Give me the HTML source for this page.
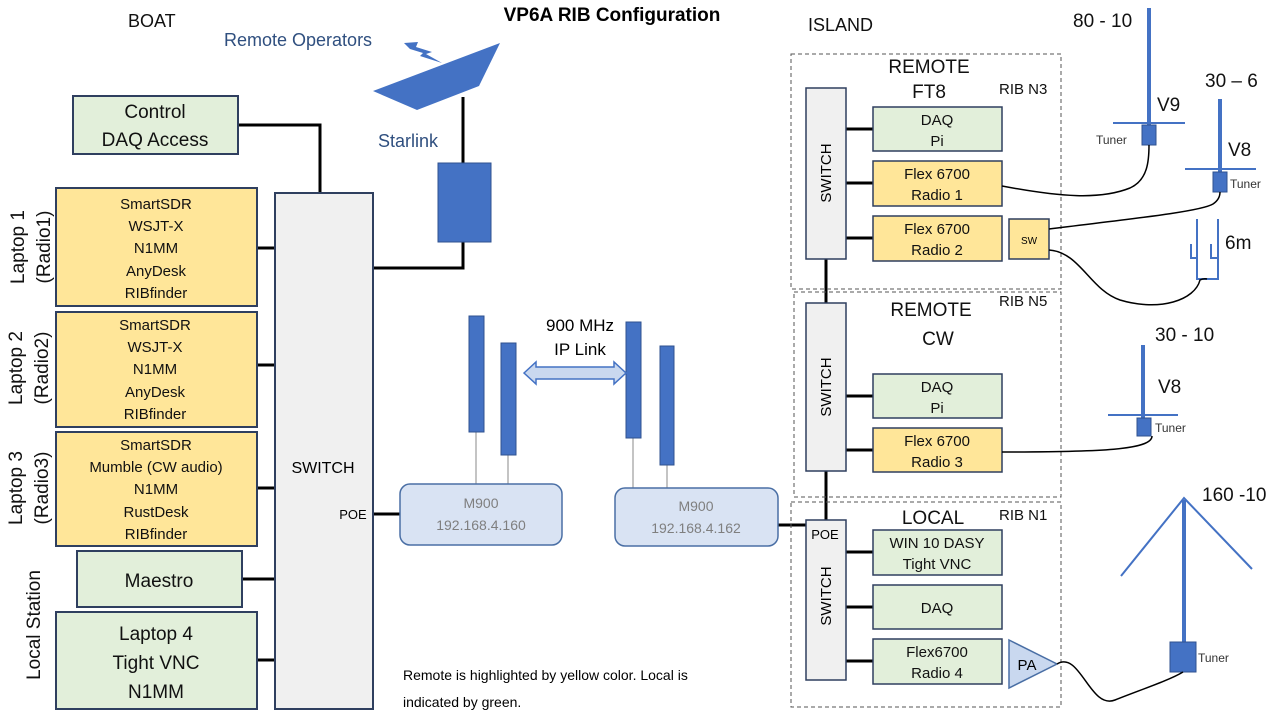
<!DOCTYPE html>
<html><head><meta charset="utf-8"><style>
html,body{margin:0;padding:0;background:#fff;}
svg{display:block;font-family:"Liberation Sans",sans-serif;}
</style></head><body>
<svg width="1280" height="714" viewBox="0 0 1280 714" xmlns="http://www.w3.org/2000/svg">
<rect width="1280" height="714" fill="#fff"/>
<g font-size="18" fill="#111">
<text x="128" y="27">BOAT</text>
<text x="808" y="31">ISLAND</text>
</g>
<text x="612" y="21" font-size="19" font-weight="bold" text-anchor="middle">VP6A RIB Configuration</text>
<text x="224" y="46" font-size="18" fill="#2f4f7f">Remote Operators</text>
<polygon points="404,43 418,42 416,47 432,52 426,54 442,63 420,56 423,53 410,49" fill="#4472c4"/>
<text x="378" y="147" font-size="18" fill="#2f4f7f">Starlink</text>
<polygon points="373,91 500,43 479,86 417,110" fill="#4472c4"/>
<g stroke="#000" stroke-width="3" fill="none">
<polyline points="238,125 320,125 320,193"/>
<line x1="463" y1="97" x2="463" y2="163"/>
<polyline points="463,242 463,268 373,268"/>
<line x1="257" y1="248" x2="275" y2="248"/>
<line x1="257" y1="365" x2="275" y2="365"/>
<line x1="257" y1="488" x2="275" y2="488"/>
<line x1="242" y1="579" x2="275" y2="579"/>
<line x1="257" y1="660" x2="275" y2="660"/>
<line x1="373" y1="514" x2="400" y2="514"/>
<line x1="778" y1="525" x2="806" y2="525"/>
<line x1="826" y1="259" x2="826" y2="303"/>
<line x1="826" y1="471" x2="826" y2="520"/>
<line x1="846" y1="129" x2="873" y2="129"/>
<line x1="846" y1="183" x2="873" y2="183"/>
<line x1="846" y1="238" x2="873" y2="238"/>
<line x1="846" y1="396" x2="873" y2="396"/>
<line x1="846" y1="450" x2="873" y2="450"/>
<line x1="846" y1="552" x2="873" y2="552"/>
<line x1="846" y1="607" x2="873" y2="607"/>
<line x1="846" y1="661" x2="873" y2="661"/>
</g>
<rect x="438" y="163" width="53" height="79" fill="#4472c4" stroke="#2f528f"/>
<g stroke="#2f3f5f" stroke-width="2">
<rect x="73" y="96" width="165" height="58" fill="#e2efda"/>
<rect x="56" y="188" width="201" height="118" fill="#ffe699"/>
<rect x="56" y="312" width="201" height="115" fill="#ffe699"/>
<rect x="56" y="432" width="201" height="114" fill="#ffe699"/>
<rect x="77" y="551" width="165" height="56" fill="#e2efda"/>
<rect x="56" y="612" width="201" height="97" fill="#e2efda"/>
<rect x="275" y="193" width="98" height="516" fill="#f0f0f0"/>
</g>
<g font-size="19" text-anchor="middle" fill="#111">
<text x="155" y="118">Control</text><text x="155" y="146">DAQ Access</text>
<text x="159" y="587">Maestro</text>
<text x="156" y="640">Laptop 4</text><text x="156" y="669">Tight VNC</text><text x="156" y="698">N1MM</text>
</g>
<g font-size="15" text-anchor="middle" fill="#111">
<text x="156" y="209">SmartSDR</text><text x="156" y="231">WSJT-X</text><text x="156" y="253">N1MM</text><text x="156" y="276">AnyDesk</text><text x="156" y="298">RIBfinder</text>
<text x="155" y="330">SmartSDR</text><text x="155" y="352">WSJT-X</text><text x="155" y="374">N1MM</text><text x="155" y="397">AnyDesk</text><text x="155" y="419">RIBfinder</text>
<text x="156" y="450">SmartSDR</text><text x="156" y="472">Mumble (CW audio)</text><text x="156" y="494">N1MM</text><text x="156" y="517">RustDesk</text><text x="156" y="539">RIBfinder</text>
</g>
<g font-size="19" fill="#111" text-anchor="middle">
<text transform="translate(24,247) rotate(-90)">Laptop 1</text>
<text transform="translate(50,247) rotate(-90)">(Radio1)</text>
<text transform="translate(22,368) rotate(-90)">Laptop 2</text>
<text transform="translate(48,368) rotate(-90)">(Radio2)</text>
<text transform="translate(22,488) rotate(-90)">Laptop 3</text>
<text transform="translate(48,488) rotate(-90)">(Radio3)</text>
<text transform="translate(40,625) rotate(-90)">Local Station</text>
</g>
<text x="323" y="473" font-size="16" text-anchor="middle">SWITCH</text>
<text x="353" y="519" font-size="13" text-anchor="middle">POE</text>
<g stroke="#888" stroke-width="1">
<line x1="476" y1="432" x2="476" y2="484"/><line x1="508" y1="455" x2="508" y2="484"/>
<line x1="633" y1="438" x2="633" y2="488"/><line x1="667" y1="465" x2="667" y2="488"/>
</g>
<g fill="#4472c4" stroke="#2f528f">
<rect x="469" y="316" width="15" height="116"/><rect x="501" y="343" width="15" height="112"/>
<rect x="626" y="322" width="15" height="116"/><rect x="660" y="346" width="14" height="119"/>
</g>
<polygon points="524,373 536,362 536,367 614,367 614,362 626,373 614,384 614,379 536,379 536,384" fill="#c9d8ef" stroke="#4472c4" stroke-width="1.5"/>
<text x="580" y="331" font-size="17" text-anchor="middle">900 MHz</text>
<text x="580" y="355" font-size="17" text-anchor="middle">IP Link</text>
<g fill="#d9e3f3" stroke="#4a6fa5" stroke-width="1.5">
<rect x="400" y="484" width="162" height="61" rx="10"/>
<rect x="615" y="488" width="163" height="58" rx="10"/>
</g>
<g font-size="14" fill="#7f7f7f" text-anchor="middle">
<text x="481" y="508">M900</text><text x="481" y="530">192.168.4.160</text>
<text x="696" y="511">M900</text><text x="696" y="533">192.168.4.162</text>
</g>
<text x="403" y="680" font-size="14">Remote is highlighted by yellow color. Local is</text>
<text x="403" y="707" font-size="14">indicated by green.</text>
<g fill="none" stroke="#555" stroke-width="1" stroke-dasharray="4,3">
<rect x="791" y="54" width="270" height="235"/>
<rect x="794" y="292" width="267" height="205"/>
<rect x="791" y="502" width="270" height="205"/>
</g>
<g stroke="#2f3f5f" stroke-width="1.5" fill="#f0f0f0">
<rect x="806" y="88" width="40" height="171"/>
<rect x="806" y="303" width="40" height="168"/>
<rect x="806" y="520" width="40" height="160"/>
</g>
<g stroke="#2f3f5f" stroke-width="1.5">
<rect x="873" y="107" width="129" height="44" fill="#e2efda"/>
<rect x="873" y="161" width="129" height="45" fill="#ffe699"/>
<rect x="873" y="216" width="129" height="45" fill="#ffe699"/>
<rect x="1009" y="219" width="40" height="40" fill="#ffe699"/>
<rect x="873" y="374" width="129" height="44" fill="#e2efda"/>
<rect x="873" y="428" width="129" height="44" fill="#ffe699"/>
<rect x="873" y="530" width="129" height="45" fill="#e2efda"/>
<rect x="873" y="585" width="129" height="44" fill="#e2efda"/>
<rect x="873" y="639" width="129" height="45" fill="#e2efda"/>
</g>
<polygon points="1009,640 1057,664 1009,688" fill="#c9d8ef" stroke="#4a6fa5" stroke-width="1.5"/>
<text x="1027" y="670" font-size="15" text-anchor="middle">PA</text>
<g font-size="15" text-anchor="middle" fill="#111">
<text x="937" y="125">DAQ</text><text x="937" y="146">Pi</text>
<text x="937" y="179">Flex 6700</text><text x="937" y="200">Radio 1</text>
<text x="937" y="234">Flex 6700</text><text x="937" y="255">Radio 2</text>
<text x="937" y="392">DAQ</text><text x="937" y="413">Pi</text>
<text x="937" y="446">Flex 6700</text><text x="937" y="467">Radio 3</text>
<text x="937" y="548">WIN 10 DASY</text><text x="937" y="569">Tight VNC</text>
<text x="937" y="613">DAQ</text>
<text x="937" y="657">Flex6700</text><text x="937" y="678">Radio 4</text>
</g>
<text x="1029" y="244" font-size="10" text-anchor="middle">SW</text>
<g font-size="15" text-anchor="middle">
<text transform="translate(831,173) rotate(-90)">SWITCH</text>
<text transform="translate(831,387) rotate(-90)">SWITCH</text>
<text transform="translate(831,596) rotate(-90)">SWITCH</text>
<text x="825" y="539" font-size="13">POE</text>
</g>
<g font-size="19" text-anchor="middle" fill="#111">
<text x="929" y="73">REMOTE</text><text x="929" y="98">FT8</text>
<text x="931" y="316">REMOTE</text><text x="938" y="345">CW</text>
<text x="933" y="524">LOCAL</text>
</g>
<g font-size="15" fill="#111">
<text x="999" y="94">RIB N3</text><text x="999" y="306">RIB N5</text><text x="999" y="520">RIB N1</text>
</g>
<g fill="none" stroke="#4472c4">
<line x1="1149" y1="8" x2="1149" y2="126" stroke-width="4"/>
<line x1="1113" y1="123" x2="1185" y2="123" stroke-width="2"/>
<line x1="1220" y1="99" x2="1220" y2="172" stroke-width="4"/>
<line x1="1185" y1="169" x2="1256" y2="169" stroke-width="2"/>
<line x1="1143" y1="345" x2="1143" y2="418" stroke-width="4"/>
<line x1="1108" y1="415" x2="1178" y2="415" stroke-width="2"/>
<line x1="1184" y1="500" x2="1184" y2="642" stroke-width="4"/>
<polyline points="1121,576 1184,498 1252,569" stroke-width="2"/>
<polyline points="1197,219 1197,279 1218,279 1218,219" stroke-width="2"/>
<polyline points="1191,244 1191,258 1197,258" stroke-width="2"/>
<polyline points="1211,244 1211,258 1218,258" stroke-width="2"/>
</g>
<g fill="#4472c4" stroke="#2f528f">
<rect x="1142" y="125" width="14" height="20"/>
<rect x="1213" y="172" width="14" height="20"/>
<rect x="1137" y="418" width="14" height="18"/>
<rect x="1170" y="642" width="26" height="30"/>
</g>
<g font-size="19" fill="#111">
<text x="1073" y="27">80 - 10</text><text x="1157" y="111">V9</text>
<text x="1205" y="87">30 – 6</text><text x="1228" y="156">V8</text>
<text x="1225" y="249">6m</text>
<text x="1155" y="341">30 - 10</text><text x="1158" y="393">V8</text>
<text x="1202" y="501">160 -10</text>
</g>
<g font-size="12" fill="#333">
<text x="1096" y="144">Tuner</text><text x="1230" y="188">Tuner</text>
<text x="1155" y="432">Tuner</text><text x="1198" y="662">Tuner</text>
</g>
<g fill="none" stroke="#000" stroke-width="1.5">
<path d="M1002,186 C1060,197 1100,200 1130,188 C1148,180 1149,160 1149,145"/>
<path d="M1049,229 C1120,220 1200,212 1213,204 C1219,200 1220,195 1220,192"/>
<path d="M1049,250 C1080,252 1090,290 1120,300 C1160,312 1195,300 1200,280 C1204,278 1207,279 1207,279"/>
<path d="M1152,436 C1152,450 1100,452 1002,452"/>
<path d="M1057,664 C1080,650 1090,710 1115,700 C1140,690 1170,680 1183,672"/>
</g>
</svg>
</body></html>
